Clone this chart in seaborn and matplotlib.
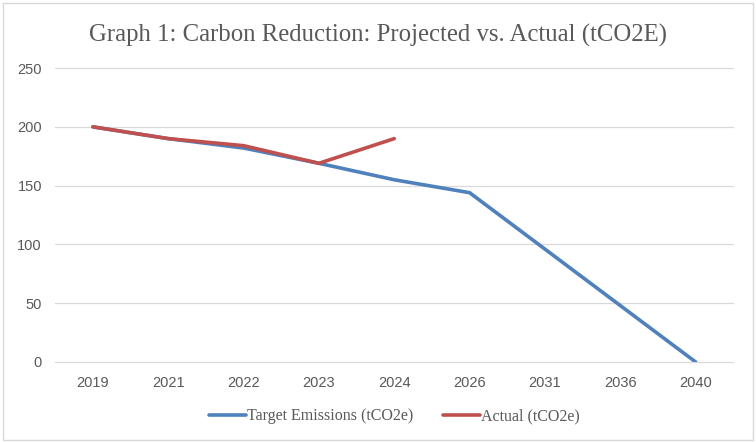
import pandas as pd
import matplotlib
matplotlib.use("Agg")
import matplotlib.pyplot as plt
import seaborn as sns
from matplotlib.patches import Rectangle

years = ["2019", "2021", "2022", "2023", "2024", "2026", "2031", "2036", "2040"]
target = [200, 190, 182, 169, 155, 144, 96, 48, 0]
actual_years = ["2019", "2021", "2022", "2023", "2024"]
actual = [200, 190, 184, 169, 190]

target_label = "Target Emissions (tCO2e)"
actual_label = "Actual (tCO2e)"

df = pd.concat([
    pd.DataFrame({"Year": years, "Value": target, "Series": target_label}),
    pd.DataFrame({"Year": actual_years, "Value": actual, "Series": actual_label}),
], ignore_index=True)

sns.set_theme(style="white")
plt.rcParams["font.family"] = ["Liberation Sans", "DejaVu Sans"]

fig = plt.figure(figsize=(7.56, 4.42), dpi=100)
ax = fig.add_axes([0.073, 0.181, 0.897, 0.665])

# gridlines incl. the zero line (kept under the data)
for v in range(0, 251, 50):
    ax.axhline(v, color="#D9D9D9", linewidth=0.9, zorder=0, clip_on=False)

sns.lineplot(data=df, x="Year", y="Value", hue="Series",
             palette={target_label: "#4F81BD", actual_label: "#C0504D"},
             linewidth=2.6, sort=False, ax=ax)

ax.set_xlim(-0.5, len(years) - 0.5)
ax.set_ylim(0, 250)
ax.set_yticks(range(0, 251, 50))
for s in ax.spines.values():
    s.set_visible(False)
ax.tick_params(axis="both", length=0, labelsize=10.5, colors="#595959")
ax.tick_params(axis="y", pad=9.5)
ax.tick_params(axis="x", pad=10)
ax.set_xlabel("")
ax.set_ylabel("")

handles, labels = ax.get_legend_handles_labels()
ax.legend(handles, labels, loc="upper center", bbox_to_anchor=(0.5, -0.108),
          ncol=2, frameon=False, handlelength=2.3, handletextpad=0.05,
          columnspacing=1.9, prop={"family": "Liberation Serif", "size": 11.5},
          labelcolor="#595959")

fig.text(0.5, 0.92, "Graph 1: Carbon Reduction: Projected vs. Actual (tCO2E)",
         ha="center", va="center", fontsize=17.8, color="#595959",
         family="Liberation Serif")

fig.patches.append(Rectangle((0.004, 0.004), 0.992, 0.99, transform=fig.transFigure,
                             fill=False, edgecolor="#D9D9D9", linewidth=1))

fig.savefig("out.png", dpi=100)
